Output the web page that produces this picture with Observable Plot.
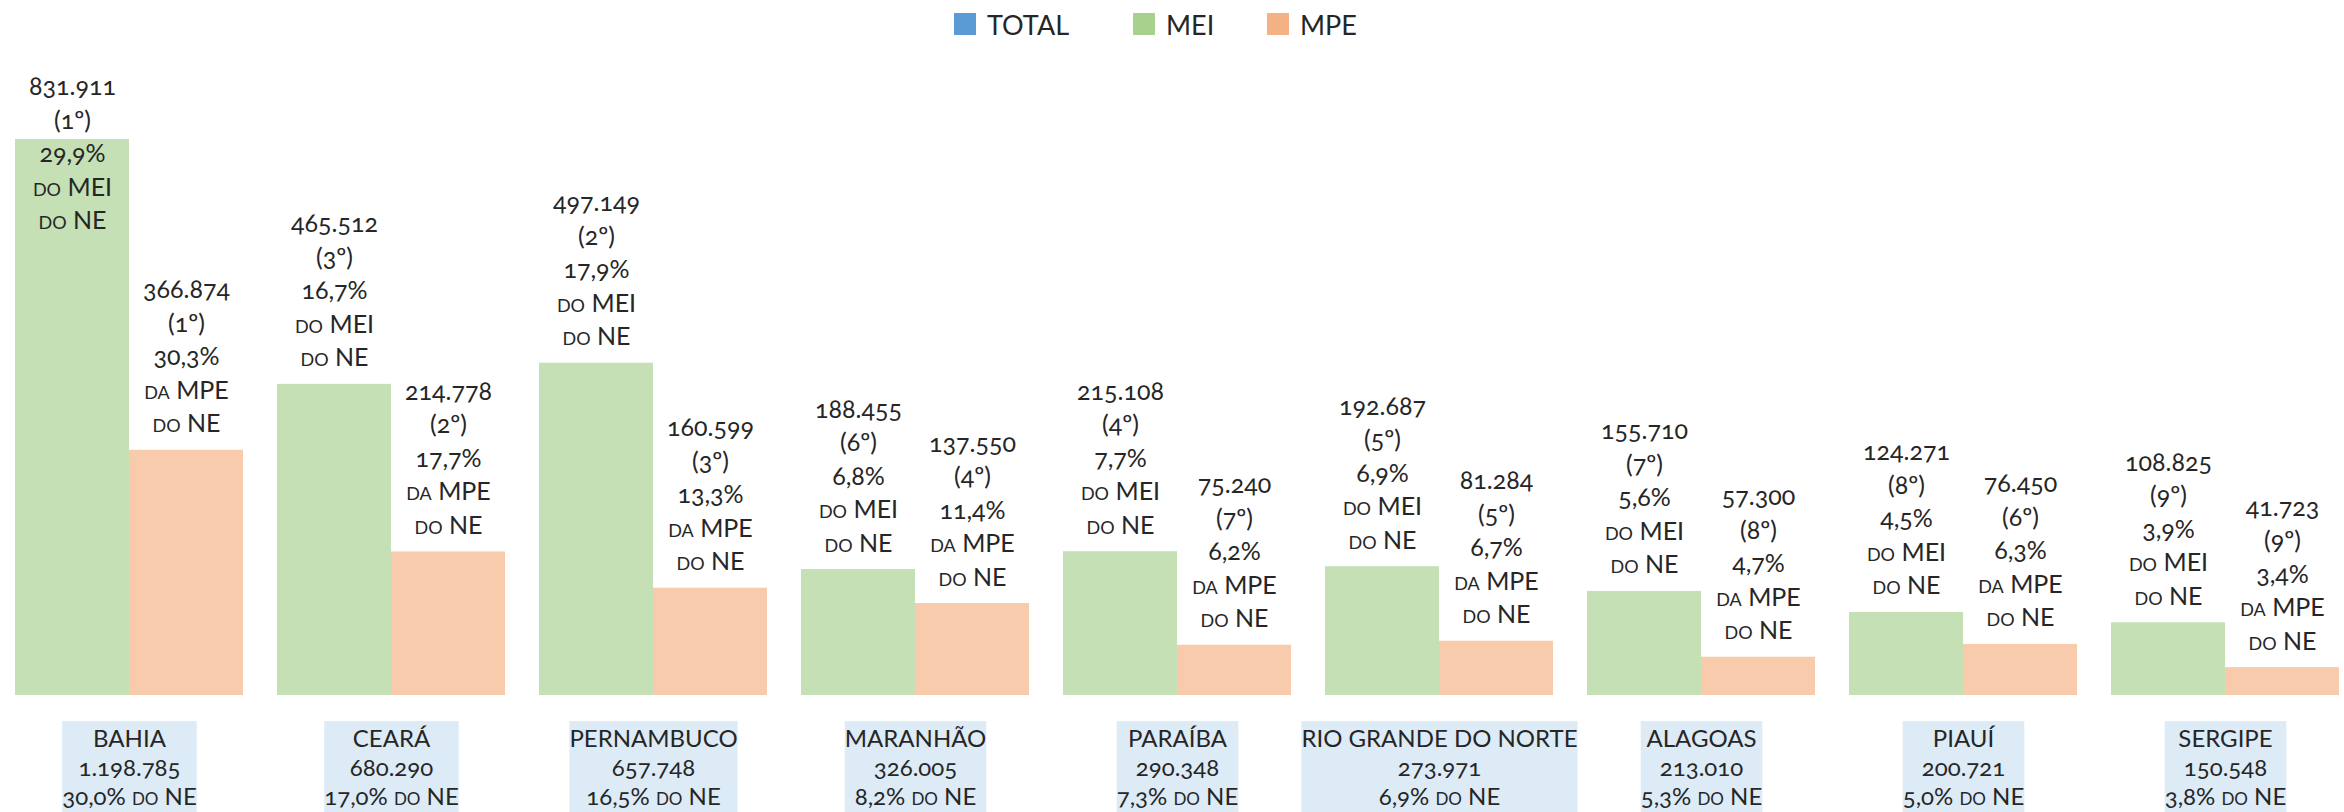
<!DOCTYPE html>
<html><head><meta charset="utf-8">
<script src="https://cdn.jsdelivr.net/npm/d3@7"></script>
<script src="https://cdn.jsdelivr.net/npm/@observablehq/plot@0.6"></script>
<style>
html,body{margin:0;padding:0;background:#fff;}
body{width:2344px;height:812px;overflow:hidden;font-family:Lato, sans-serif;color:#262626;}
#legend{height:50px;position:relative;font-size:27px;}
.item{position:absolute;top:0;height:48px;display:flex;align-items:center;}
.sw{width:22px;height:22px;margin-right:11px;}
</style></head><body>
<div id="legend"></div>
<div id="chart"></div>
<script>
// ---- data ----
const states = ["BAHIA","CEARÁ","PERNAMBUCO","MARANHÃO","PARAÍBA","RIO GRANDE DO NORTE","ALAGOAS","PIAUÍ","SERGIPE"];
const mei = [831911,465512,497149,188455,215108,192687,155710,124271,108825];
const meiRank = [1,3,2,6,4,5,7,8,9];
const meiPct = [29.9,16.7,17.9,6.8,7.7,6.9,5.6,4.5,3.9];
const mpe = [366874,214778,160599,137550,75240,81284,57300,76450,41723];
const mpeRank = [1,2,3,4,7,5,8,6,9];
const mpePct = [30.3,17.7,13.3,11.4,6.2,6.7,4.7,6.3,3.4];
const total = [1198785,680290,657748,326005,290348,273971,213010,200721,150548];
const totalPct = [30.0,17.0,16.5,8.2,7.3,6.9,5.3,5.0,3.8];
const legendKeys = ["TOTAL","MEI","MPE"];
const legendColors = ["#5B9BD5","#A9D18E","#F4B183"];
const barColors = ["#C5E0B4","#F8CBAD"];

// ---- legend ----
const legendLeft = [954,1133,1267];
const lg = document.getElementById("legend");
legendKeys.forEach((k,i)=>{
  const it = document.createElement("div"); it.className="item"; it.style.left = legendLeft[i]+"px";
  const sw = document.createElement("div"); sw.className="sw"; sw.style.background=legendColors[i];
  const tx = document.createElement("span"); tx.textContent=k;
  it.append(sw,tx); lg.append(it);
});

// ---- formatting ----
const loc = d3.formatLocale({decimal:",", thousands:".", grouping:[3], currency:["R$",""]});
const fmtInt = loc.format(",d");
const fmtPct = loc.format(".1f");

const bars = [];
states.forEach((s,i)=>{
  bars.push({state:s, series:"MEI", value:mei[i],
    label:`${fmtInt(mei[i])}\n(${meiRank[i]}º)\n${fmtPct(meiPct[i])}%\ndo MEI\ndo NE`});
  bars.push({state:s, series:"MPE", value:mpe[i],
    label:`${fmtInt(mpe[i])}\n(${mpeRank[i]}º)\n${fmtPct(mpePct[i])}%\nda MPE\ndo NE`});
});
const stateLabels = states.map((s,i)=>({state:s, label:`${s}\n${fmtInt(total[i])}\n${fmtPct(totalPct[i])}% do NE`}));
const yMax = d3.max(mei);
const labelCap = yMax*0.806;

const chart = Plot.plot({
  width:2344, height:762, marginTop:89, marginBottom:117, marginLeft:12, marginRight:2,
  style:"font-family:Lato, sans-serif; font-size:24px; font-variant-caps:small-caps; font-variant-numeric:oldstyle-nums; background:#fff; color:#262626;",
  fx:{domain:states, paddingInner:0.128, paddingOuter:0, axis:null, label:null},
  x:{domain:["MEI","MPE"], padding:0, axis:null, label:null},
  y:{domain:[0,yMax], axis:null},
  color:{domain:["MEI","MPE"], range:barColors},
  marks:[
    Plot.barY(bars,{fx:"state", x:"series", y:"value", fill:"series"}),
    Plot.text(bars,{fx:"state", x:"series", y:d=>Math.min(d.value,labelCap), text:"label",
      lineAnchor:"bottom", dy:-18, fontSize:25, lineHeight:1.34, fill:"#262626"}),
    Plot.text(stateLabels,{fx:"state", frameAnchor:"bottom", text:"label", lineAnchor:"top",
      dy:31, fontSize:24, lineHeight:1.21, fill:"#262626"})
  ]
});
document.getElementById("chart").append(chart);

// light-blue boxes behind the state labels, sized from the rendered text
chart.querySelectorAll("text").forEach(t=>{
  const c = t.textContent || "";
  if (!states.some(s=>c.startsWith(s))) return;
  const b = t.getBBox();
  const r = document.createElementNS("http://www.w3.org/2000/svg","rect");
  r.setAttribute("x", b.x); r.setAttribute("y", b.y - 2);
  r.setAttribute("width", b.width); r.setAttribute("height", b.height + 40);
  r.setAttribute("fill", "#DDEBF7");
  const tr = t.getAttribute("transform"); if (tr) r.setAttribute("transform", tr);
  t.parentNode.insertBefore(r, t);
});
</script>
</body></html>
